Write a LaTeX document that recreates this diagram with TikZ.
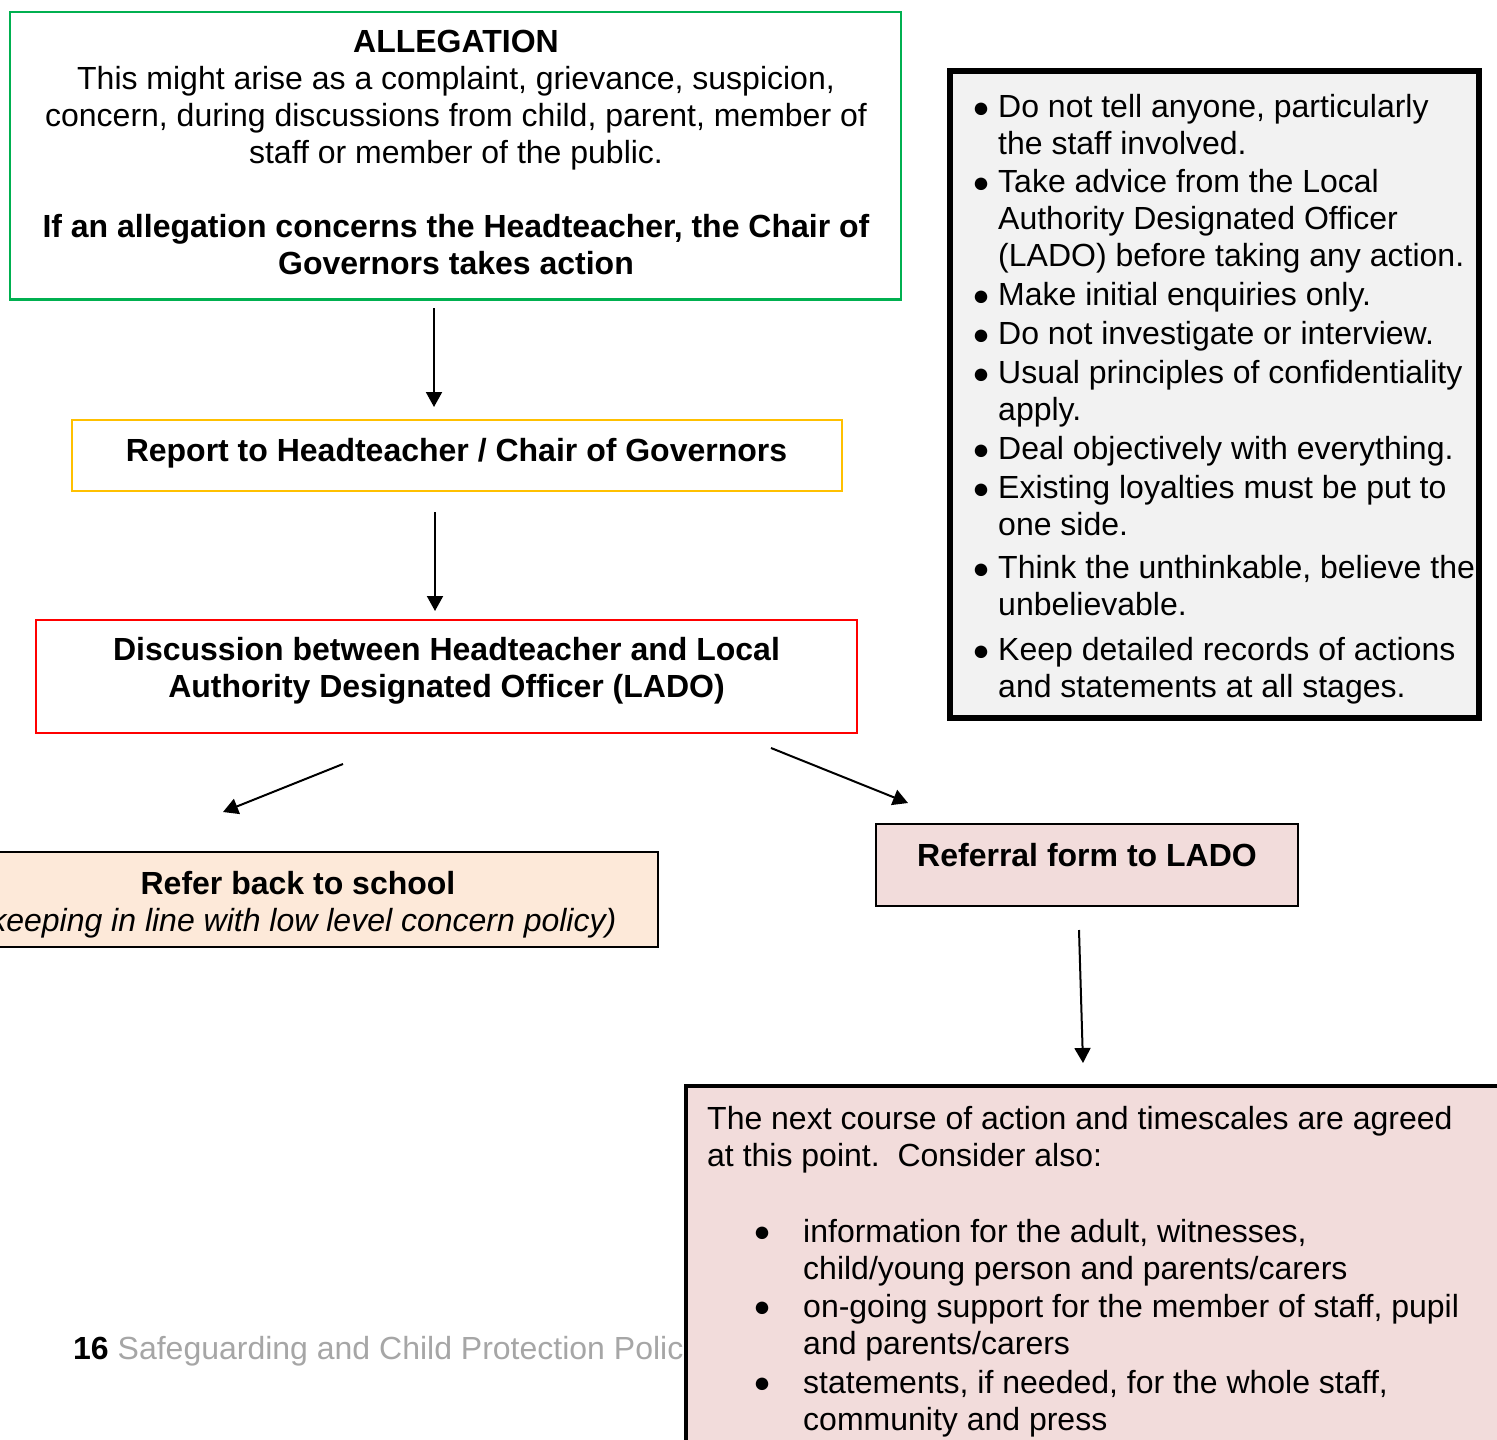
\documentclass[tikz,border=0pt]{standalone}
\usepackage{fontspec}
\setmainfont{Liberation Sans}
\usetikzlibrary{arrows.meta}
\definecolor{grn}{HTML}{00B050}
\definecolor{ylw}{HTML}{FFC000}
\definecolor{rd}{HTML}{FF0000}
\definecolor{peach}{HTML}{FDE9D9}
\definecolor{pink}{HTML}{F2DCDB}
\definecolor{lgray}{HTML}{F2F2F2}
\definecolor{ftgray}{HTML}{A6A6A6}
\begin{document}
\begin{tikzpicture}[x=1pt,y=-1pt,
  frame/.style={draw, line width=2.8pt, inner sep=0pt},
  txt/.style={inner sep=0pt, font=\fontsize{32}{37}\selectfont, align=center, anchor=north},
  itm/.style={inner sep=0pt, font=\fontsize{32}{37}\selectfont, align=left, anchor=north west},
  blt/.style={inner sep=0pt, font=\fontsize{29}{31}\selectfont, anchor=base},
  arr/.style={-{Triangle[length=15pt,width=16pt]}, line width=2pt}]
\useasboundingbox (0,0) rectangle (1497,1440);
\clip (0,0) rectangle (1497,1440);

% ALLEGATION box
\node[frame, draw=grn, minimum width=891pt, minimum height=287.5pt] (alleg) at (455.5,155.75) {};
\node[txt] (allegtxt) at (456,26.1) {\strut\textbf{ALLEGATION}\\
This might arise as a complaint, grievance, suspicion,\\
concern, during discussions from child, parent, member of\\
staff or member of the public.\\[37pt]
\textbf{If an allegation concerns the Headteacher, the Chair of}\\
\textbf{Governors takes action}};

% Report box
\node[frame, draw=ylw, minimum width=770pt, minimum height=71pt] (report) at (457,455.5) {};
\node[txt] (reporttxt) at (456.5,435.1) {\strut\textbf{Report to Headteacher / Chair of Governors}};

% Discussion box
\node[frame, draw=rd, minimum width=821pt, minimum height=113pt] (disc) at (446.5,676.5) {};
\node[txt] (disctxt) at (446.5,634.1) {\strut\textbf{Discussion between Headteacher and Local}\\
\textbf{Authority Designated Officer (LADO)}};

% Refer back box
\node[frame, fill=peach, minimum width=720pt, minimum height=95pt] (refer) at (298,899.5) {};
\node[txt] (refertxt) at (298,868.1) {\strut\textbf{Refer back to school}\\
\textit{(keeping in line with low level concern policy)}};

% Referral box
\node[frame, fill=pink, minimum width=422pt, minimum height=82pt] (referral) at (1087,865) {};
\node[txt] (referraltxt) at (1087,840.1) {\strut\textbf{Referral form to LADO}};

% Right advice box
\node[frame, line width=5.5pt, fill=lgray, minimum width=529pt, minimum height=647pt] (advice) at (1214.5,394.5) {};
\foreach \n/\y/\t in {
  a1/117/{Do not tell anyone, particularly\\the staff involved.},
  a2/192/{Take advice from the Local\\Authority Designated Officer\\(LADO) before taking any action.},
  a3/305/{Make initial enquiries only.},
  a4/344/{Do not investigate or interview.},
  a5/383/{Usual principles of confidentiality\\apply.},
  a6/459/{Deal objectively with everything.},
  a7/498/{Existing loyalties must be put to\\one side.},
  a8/578/{Think the unthinkable, believe the\\unbelievable.},
  a9/660/{Keep detailed records of actions\\and statements at all stages.}}{
  \node[blt] (b\n) at (981,\y) {●};
  \node[itm] (t\n) at (998,\y-25.9) {\strut\t};
}

% Footer (partly hidden by the bottom box)
\node[inner sep=0pt, anchor=base west, font=\fontsize{32}{37}\selectfont] (footer) at (73,1359) {\textbf{16} \textcolor{ftgray}{Safeguarding and Child Protection Polic}};

% Bottom box
\node[frame, line width=4pt, fill=pink, minimum width=824pt, minimum height=374pt] (next) at (1098,1273) {};
\node[itm] (nexttxt) at (707,1129-25.9) {\strut The next course of action and timescales are agreed\\at this point.\ \ Consider also:};
\foreach \n/\y/\t in {
  c1/1242/{information for the adult, witnesses,\\child/young person and parents/carers},
  c2/1317/{on-going support for the member of staff, pupil\\and parents/carers},
  c3/1393/{statements, if needed, for the whole staff,\\community and press}}{
  \node[blt] (b\n) at (762,\y-1) {●};
  \node[itm] (t\n) at (803,\y-25.9) {\strut\t};
}

% Connector ends
\coordinate (s1) at (434,308); \coordinate (e1) at (434,407);
\coordinate (s2) at (435,512); \coordinate (e2) at (435,611);
\coordinate (s3) at (343,764); \coordinate (e3) at (223,812);
\coordinate (s4) at (771,748); \coordinate (e4) at (908,803);
\coordinate (s5) at (1079,930); \coordinate (e5) at (1083,1063);
\draw[arr] (s1) -- (e1);
\draw[arr] (s2) -- (e2);
\draw[arr] (s3) -- (e3);
\draw[arr] (s4) -- (e4);
\draw[arr] (s5) -- (e5);
\end{tikzpicture}
\end{document}
